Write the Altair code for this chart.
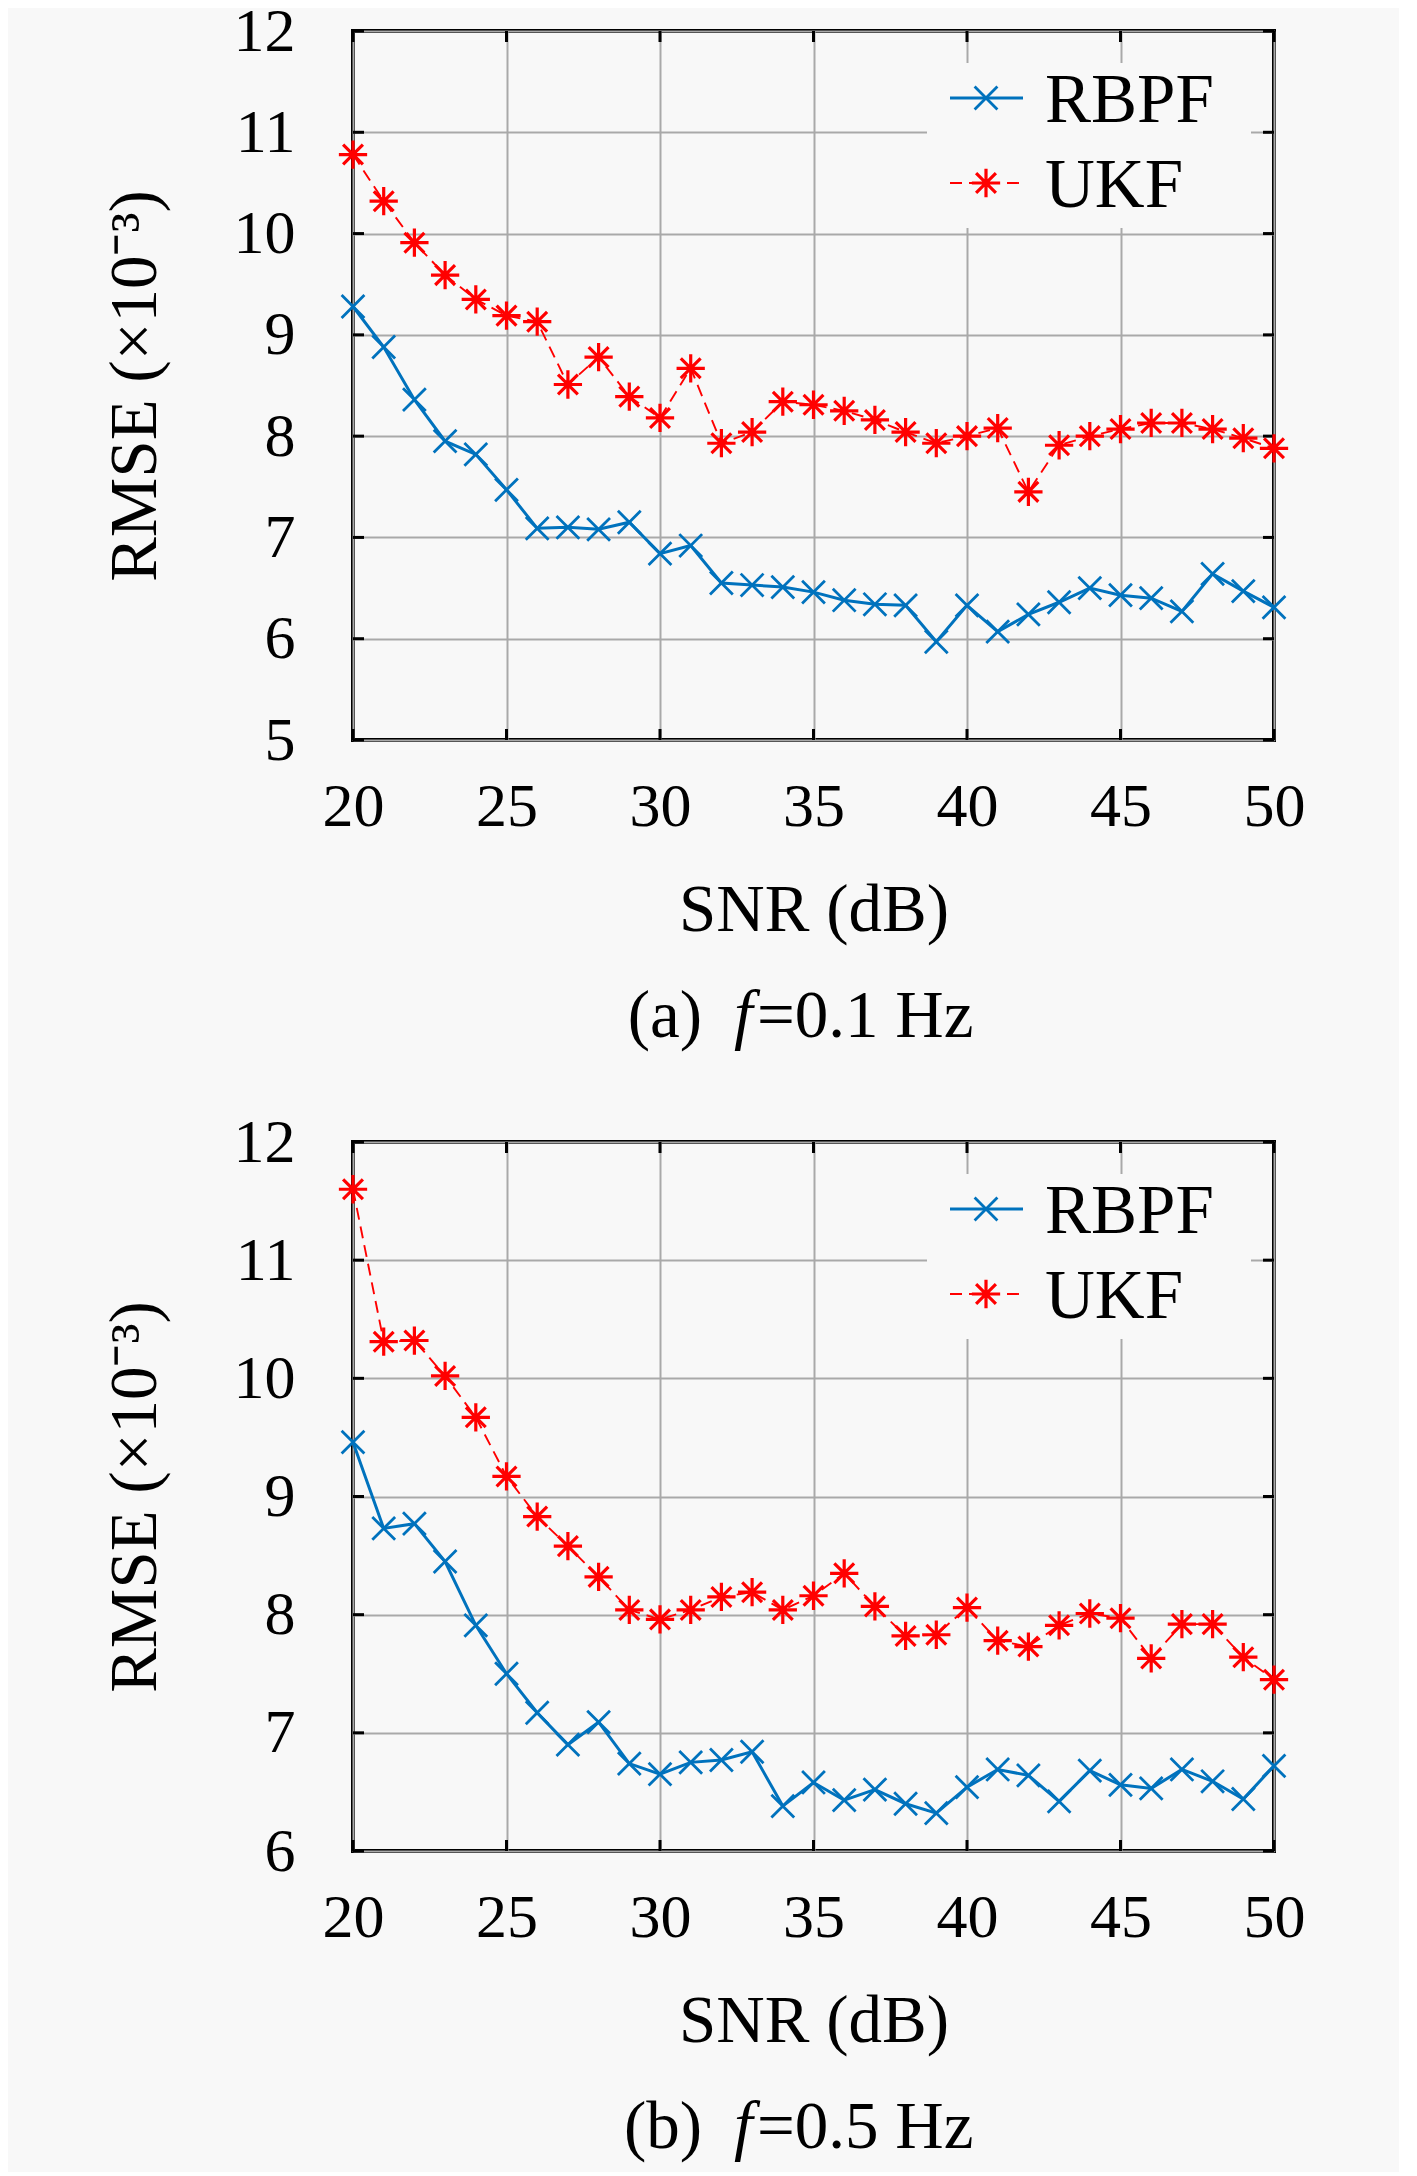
import altair as alt
import pandas as pd

# ---------------- data ----------------
SNR = [20, 21, 22, 23, 24, 25, 26, 27, 28, 29, 30, 31, 32, 33, 34, 35,
       36, 37, 38, 39, 40, 41, 42, 43, 44, 45, 46, 47, 48, 49, 50]

RBPF_A = [9.28, 8.88, 8.36, 7.95, 7.82, 7.47, 7.09, 7.10, 7.08, 7.15, 6.84,
          6.92, 6.55, 6.53, 6.51, 6.46, 6.38, 6.34, 6.33, 5.97, 6.33, 6.07,
          6.24, 6.36, 6.50, 6.43, 6.40, 6.27, 6.64, 6.47, 6.31]
UKF_A = [10.78, 10.32, 9.91, 9.59, 9.35, 9.19, 9.13, 8.51, 8.78, 8.39, 8.18,
         8.67, 7.93, 8.04, 8.34, 8.31, 8.25, 8.16, 8.04, 7.93, 8.00, 8.08,
         7.45, 7.91, 8.00, 8.07, 8.13, 8.13, 8.07, 7.98, 7.88]

RBPF_B = [9.46, 8.73, 8.77, 8.45, 7.91, 7.50, 7.17, 6.90, 7.09, 6.74, 6.65,
          6.75, 6.77, 6.84, 6.38, 6.58, 6.43, 6.52, 6.40, 6.32, 6.54, 6.69,
          6.64, 6.42, 6.68, 6.56, 6.53, 6.69, 6.59, 6.44, 6.72]
UKF_B = [11.60, 10.31, 10.32, 10.02, 9.67, 9.17, 8.83, 8.58, 8.32, 8.04, 7.96,
         8.04, 8.15, 8.19, 8.04, 8.16, 8.35, 8.07, 7.82, 7.83, 8.06, 7.78,
         7.73, 7.91, 8.01, 7.97, 7.63, 7.92, 7.92, 7.64, 7.45]

X_TICKS = [20, 25, 30, 35, 40, 45, 50]
Y_TICKS_A = [5, 6, 7, 8, 9, 10, 11, 12]
Y_TICKS_B = [6, 7, 8, 9, 10, 11, 12]
SERIES = ["RBPF", "UKF"]
CAPTION_A = ["(a)", "f", "=0.1 Hz"]
CAPTION_B = ["(b)", "f", "=0.5 Hz"]
X_TITLE = "SNR (dB)"
Y_TITLE = "RMSE (×10⁻³)"

# ---------------- style ----------------
BG = "#f8f8f8"
BLUE = "#0072BD"
RED = "#FF0000"
FONT = "Liberation Serif"
FS = 62
TFS = 67
W, H = 921, 709
TICK = 11
X_PATH = "M-1,-1L1,1M-1,1L1,-1"
AST_PATH = "M-1,0L1,0M0,-1L0,1M-0.7,-0.7L0.7,0.7M-0.7,0.7L0.7,-0.7"
X_SIZE, AST_SIZE = 520, 800


def panel(rbpf, ukf, yticks, caption):
    long = pd.DataFrame({
        "snr": SNR * 2,
        "val": rbpf + ukf,
        "series": [SERIES[0]] * len(SNR) + [SERIES[1]] * len(SNR),
    })
    xs = alt.Scale(domain=[X_TICKS[0], X_TICKS[-1]], nice=False, zero=False)
    ys = alt.Scale(domain=[yticks[0], yticks[-1]], nice=False, zero=False)
    xenc = alt.X("snr:Q", scale=xs, axis=alt.Axis(
        values=X_TICKS, title=X_TITLE, grid=True, ticks=False, domain=False,
        format="d", labelPadding=66, labelBaseline="middle", titlePadding=40,
        labelFlush=False))
    yenc = alt.Y("val:Q", scale=ys, axis=alt.Axis(
        values=yticks, title=Y_TITLE, grid=True, ticks=False, domain=False,
        format="d", labelPadding=58, titlePadding=64))

    base = alt.Chart(long)
    blue = base.transform_filter(alt.datum.series == SERIES[0])
    red = base.transform_filter(alt.datum.series == SERIES[1])

    red_line = red.mark_line(color=RED, strokeWidth=1.9, strokeDash=[12, 7]).encode(x=xenc, y=yenc)
    red_pts = red.mark_point(shape=AST_PATH, size=AST_SIZE, color=RED, strokeWidth=3.2,
                             filled=False, opacity=1).encode(x=xenc, y=yenc)
    blue_line = blue.mark_line(color=BLUE, strokeWidth=3).encode(x=xenc, y=yenc)
    blue_pts = blue.mark_point(shape=X_PATH, size=X_SIZE, color=BLUE, strokeWidth=2.8,
                               filled=False, opacity=1).encode(x=xenc, y=yenc)

    # inner ticks on all four sides
    xt = alt.Chart(pd.DataFrame({"snr": X_TICKS}))
    yt = alt.Chart(pd.DataFrame({"val": yticks}))
    tick_style = dict(color="black", strokeWidth=3)
    ticks = [
        xt.mark_rule(**tick_style).encode(x=xenc, y=alt.value(H), y2=alt.value(H - TICK)),
        xt.mark_rule(**tick_style).encode(x=xenc, y=alt.value(0), y2=alt.value(TICK)),
        yt.mark_rule(**tick_style).encode(y=yenc, x=alt.value(0), x2=alt.value(TICK)),
        yt.mark_rule(**tick_style).encode(y=yenc, x=alt.value(W), x2=alt.value(W - TICK)),
    ]

    # legend (inside, top-right)
    one = alt.Chart(pd.DataFrame({"k": [0]}))
    ly = [67, 152]
    legend = [
        one.mark_rect(fill=BG, stroke=None).encode(
            x=alt.value(574), x2=alt.value(898), y=alt.value(32), y2=alt.value(197)),
        one.mark_rule(color=BLUE, strokeWidth=3).encode(
            x=alt.value(597), x2=alt.value(670), y=alt.value(ly[0])),
        one.mark_point(shape=X_PATH, size=X_SIZE, color=BLUE, strokeWidth=2.8,
                       filled=False, opacity=1).encode(x=alt.value(633), y=alt.value(ly[0])),
        one.mark_rule(color=RED, strokeWidth=1.9, strokeDash=[12, 7]).encode(
            x=alt.value(597), x2=alt.value(670), y=alt.value(ly[1])),
        one.mark_point(shape=AST_PATH, size=AST_SIZE, color=RED, strokeWidth=3.2,
                       filled=False, opacity=1).encode(x=alt.value(633), y=alt.value(ly[1])),
        one.mark_text(text=SERIES[0], font=FONT, fontSize=69, align="left",
                      baseline="middle", color="black").encode(x=alt.value(692), y=alt.value(ly[0] + 3)),
        one.mark_text(text=SERIES[1], font=FONT, fontSize=69, align="left",
                      baseline="middle", color="black").encode(x=alt.value(692), y=alt.value(ly[1] + 3)),
    ]

    cy = H + 277
    cap = [
        one.mark_text(text=caption[0], font=FONT, fontSize=TFS, align="right",
                      baseline="middle", color="black").encode(x=alt.value(349), y=alt.value(cy)),
        one.mark_text(text=caption[1], font=FONT, fontSize=TFS, fontStyle="italic", align="left",
                      baseline="middle", color="black").encode(x=alt.value(381), y=alt.value(cy)),
        one.mark_text(text=caption[2], font=FONT, fontSize=TFS, align="left",
                      baseline="middle", color="black").encode(x=alt.value(404), y=alt.value(cy)),
    ]

    return alt.layer(red_line, blue_line, *ticks, red_pts, blue_pts, *legend, *cap).properties(
        width=W, height=H)


top = panel(RBPF_A, UKF_A, Y_TICKS_A, CAPTION_A)
bottom = panel(RBPF_B, UKF_B, Y_TICKS_B, CAPTION_B)

chart = alt.vconcat(top, bottom, spacing=402, bounds="flush").properties(
    padding={"left": 91, "top": -10, "right": 92, "bottom": 9}
).configure(background=BG).configure_view(
    stroke="black", strokeWidth=4, fill=BG
).configure_axis(
    labelFont=FONT, labelFontSize=FS, labelColor="black",
    titleFont=FONT, titleFontSize=TFS, titleColor="black", titleFontWeight="normal",
    gridColor="#a9a9a9", gridWidth=2, gridOpacity=1
)

chart.save("out.html", embed_options={"renderer": "svg", "actions": False})
